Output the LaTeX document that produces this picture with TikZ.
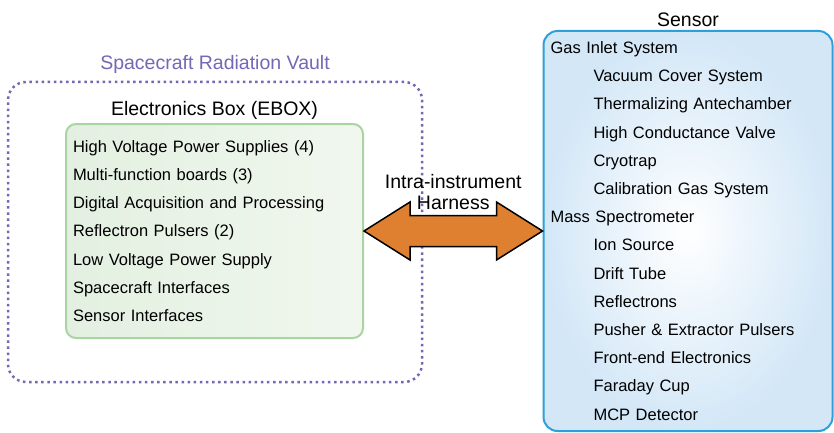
\documentclass[tikz,border=0pt]{standalone}
\usepackage{fontspec}
\setmainfont{Liberation Sans}
\usetikzlibrary{positioning,calc}
\definecolor{vaultpurple}{HTML}{7467B4}
\definecolor{eboxedge}{HTML}{A9D5A2}
\definecolor{eboxdark}{HTML}{E3F0E1}
\definecolor{eboxlight}{HTML}{F1F7EF}
\definecolor{sensoredge}{HTML}{2D9FDA}
\definecolor{sensorfill}{HTML}{D3E7F7}
\definecolor{harnessorange}{HTML}{DE802F}
\newcommand{\indt}{\hspace*{43pt}}

\tikzset{
  listfont/.style={font=\fontsize{16.5}{28.2}\selectfont},
  every label/.style={font=\fontsize{19.5}{23}\selectfont},
  vaultbox/.style={draw=vaultpurple, line width=2.5pt, dash pattern=on 2.5pt off 3.6pt,
    rounded corners=18pt, minimum width=414pt, minimum height=300pt},
  eboxbox/.style={draw=eboxedge, line width=2pt, rounded corners=10pt,
    left color=eboxdark, right color=eboxlight, listfont, align=left,
    text width=283pt, inner xsep=7pt, minimum height=214pt},
  sensorbox/.style={draw=sensoredge, line width=2pt, rounded corners=14pt,
    inner color=white, outer color=sensorfill, listfont, align=left,
    text width=275pt, inner xsep=7pt, minimum height=400pt},
  harness/.style={draw=black, line width=1.5pt, fill=harnessorange, line join=miter}
}

\begin{document}
\begin{tikzpicture}[x=1pt,y=-1pt]
  \useasboundingbox (0,0) rectangle (834,433);
  \node[vaultbox, label={[text=vaultpurple, label distance=4pt]above:Spacecraft Radiation Vault}] (vault) at (215,232) {};
  \node[eboxbox, label={[label distance=0pt]above:Electronics Box (EBOX)}] (ebox) at (214.5,231) {%
    High Voltage Power Supplies (4)\\
    Multi-function boards (3)\\
    Digital Acquisition and Processing\\
    Reflectron Pulsers (2)\\
    Low Voltage Power Supply\\
    Spacecraft Interfaces\\
    Sensor Interfaces};
  \node[sensorbox, label={[label distance=0pt]above:Sensor}] (sensor) at (688,231) {%
    Gas Inlet System\\
    \indt Vacuum Cover System\\
    \indt Thermalizing Antechamber\\
    \indt High Conductance Valve\\
    \indt Cryotrap\\
    \indt Calibration Gas System\\
    Mass Spectrometer\\
    \indt Ion Source\\
    \indt Drift Tube\\
    \indt Reflectrons\\
    \indt Pusher \& Extractor Pulsers\\
    \indt Front-end Electronics\\
    \indt Faraday Cup\\
    \indt MCP Detector};
  \draw[harness] (ebox.east) -- ++(46,-29) -- ++(0,13.5) -- ($(sensor.west)+(-46,-15.5)$) -- ++(0,-13.5)
    -- (sensor.west) -- ++(-46,29) -- ++(0,-13.5) -- ($(ebox.east)+(46,15.5)$) -- ++(0,13.5) -- cycle;
  \node[font=\fontsize{19.5}{21}\selectfont, align=center] (harnlabel) at ($(ebox.east)!0.5!(sensor.west)+(0,-39)$) {Intra-instrument\\Harness};
\end{tikzpicture}
\end{document}
